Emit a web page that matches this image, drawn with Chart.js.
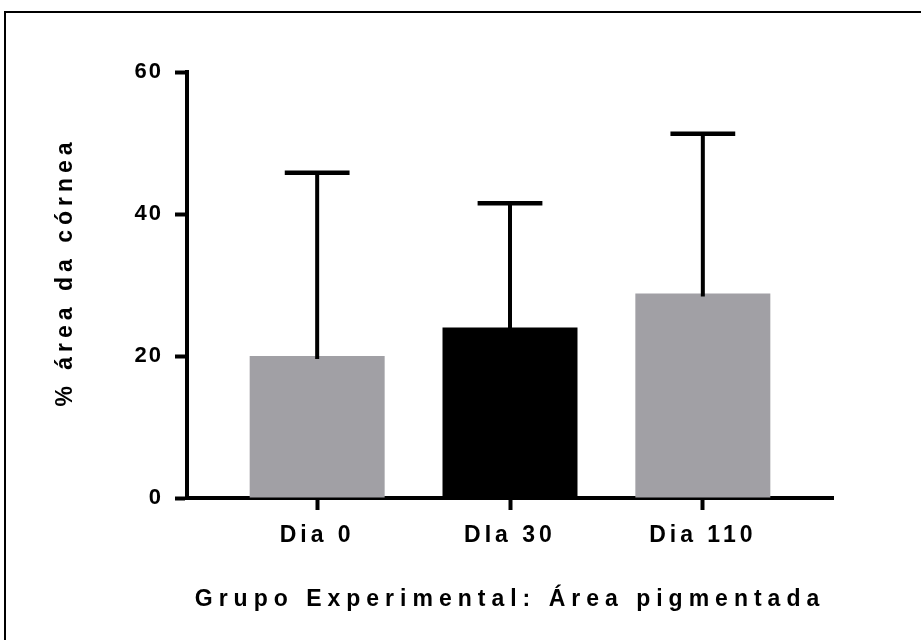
<!DOCTYPE html>
<html>
<head>
<meta charset="utf-8">
<script src="https://cdn.jsdelivr.net/npm/chart.js@4.4.0/dist/chart.umd.min.js"></script>
<style>
    html, body { margin: 0; padding: 0; background: #fff; }
    #wrap { position: relative; width: 921px; height: 640px; overflow: hidden; }
    #frame { position: absolute; left: 4px; top: 11px; width: 940px; height: 660px; border-top: 2px solid #000; border-left: 2px solid #000; pointer-events: none; }
</style>
</head>
<body>
<div id="wrap">
    <canvas id="graphic" width="921" height="640"></canvas>
    <div id="frame"></div>
</div>
<script>
// data
const categories = ["Dia 0", "DIa 30", "Dia 110"]
const meanValues = [20, 24, 28.8]
const sdValues = [25.8, 17.5, 22.5]
const yTicks = [0, 20, 40, 60]
const barColors = ["#a1a0a5", "#000000", "#a1a0a5"]

const fontFamily = "'Liberation Sans', Arial, sans-serif"

// Prism-style wide letter spacing, different for labels and titles
const spacingByAxis = {
    x: { ticks: "4px", title: "6px", shift: 0 },
    y: { ticks: "2px", title: "5px", shift: -13 },
}

const baseDrawLabels = Chart.Scale.prototype.drawLabels
Chart.Scale.prototype.drawLabels = function (chartArea) {
    const ctx = this.ctx
    ctx.save()
    ctx.letterSpacing = spacingByAxis[this.id].ticks
    baseDrawLabels.call(this, chartArea)
    ctx.restore()
}

const baseDrawTitle = Chart.Scale.prototype.drawTitle
Chart.Scale.prototype.drawTitle = function () {
    const ctx = this.ctx
    ctx.save()
    ctx.letterSpacing = spacingByAxis[this.id].title
    ctx.translate(0, spacingByAxis[this.id].shift)
    baseDrawTitle.call(this)
    ctx.restore()
}

// upper-only error bars with a cap
const errorBars = {
    id: "errorBars",
    afterDatasetsDraw(chart) {
        const ctx = chart.ctx
        const y = chart.scales.y
        const meta = chart.getDatasetMeta(0)
        ctx.save()
        ctx.strokeStyle = "#000"
        meta.data.forEach(function (bar, i) {
            let top = y.getPixelForValue(meanValues[i] + sdValues[i])
            let base = y.getPixelForValue(meanValues[i])
            let half = (bar.width * 0.48) / 2
            ctx.lineWidth = 4
            ctx.beginPath()
            ctx.moveTo(bar.x, base + 3)
            ctx.lineTo(bar.x, top)
            ctx.stroke()
            ctx.lineWidth = 4.5
            ctx.beginPath()
            ctx.moveTo(bar.x - half, top)
            ctx.lineTo(bar.x + half, top)
            ctx.stroke()
        })
        ctx.restore()
    },
}

const chartID = document.getElementById("graphic").getContext("2d")
let graphic = new Chart(chartID, {
    type: "bar",
    data: {
        datasets: [
            {
                data: meanValues.map((v, i) => ({ x: i, y: v })),
                backgroundColor: barColors,
                borderWidth: 0,
                barPercentage: 0.7,
                categoryPercentage: 1,
            },
        ],
    },
    options: {
        responsive: false,
        animation: false,
        devicePixelRatio: 1,
        layout: { padding: { top: 72, right: 88, left: 0, bottom: 0 } },
        plugins: {
            legend: { display: false },
            tooltip: { enabled: false },
        },
        scales: {
            x: {
                type: "linear",
                min: -0.675,
                max: 2.675,
                offset: false,
                bounds: "data",
                z: 1,
                afterFit(scale) {
                    scale.height = 142
                },
                afterBuildTicks(scale) {
                    scale.ticks = categories.map((c, i) => ({ value: i }))
                },
                border: { display: true, color: "#000", width: 4 },
                grid: { offset: false, drawOnChartArea: false, drawTicks: true, tickLength: 12, tickWidth: 4, tickColor: "#000" },
                ticks: {
                    callback: (v) => categories[v],
                    autoSkip: false,
                    maxRotation: 0,
                    padding: 12,
                    color: "#000",
                    font: { family: fontFamily, size: 23, weight: "bold" },
                },
                title: {
                    display: true,
                    text: "Grupo Experimental: Área pigmentada",
                    color: "#000",
                    font: { family: fontFamily, size: 23, weight: "bold" },
                    padding: { top: 0, bottom: 27 },
                },
            },
            y: {
                min: 0,
                max: 60,
                z: 1,
                afterFit(scale) {
                    scale.width = 187
                },
                afterBuildTicks(scale) {
                    scale.ticks = yTicks.map((v) => ({ value: v }))
                },
                border: { display: true, color: "#000", width: 4 },
                grid: { drawOnChartArea: false, drawTicks: true, tickLength: 12, tickWidth: 4, tickColor: "#000" },
                ticks: {
                    padding: 12,
                    color: "#000",
                    font: { family: fontFamily, size: 22, weight: "bold" },
                },
                title: {
                    display: true,
                    text: "% área da córnea",
                    color: "#000",
                    font: { family: fontFamily, size: 23, weight: "bold" },
                    padding: { top: 52, bottom: 0 },
                },
            },
        },
    },
    plugins: [errorBars],
})
</script>
</body>
</html>
